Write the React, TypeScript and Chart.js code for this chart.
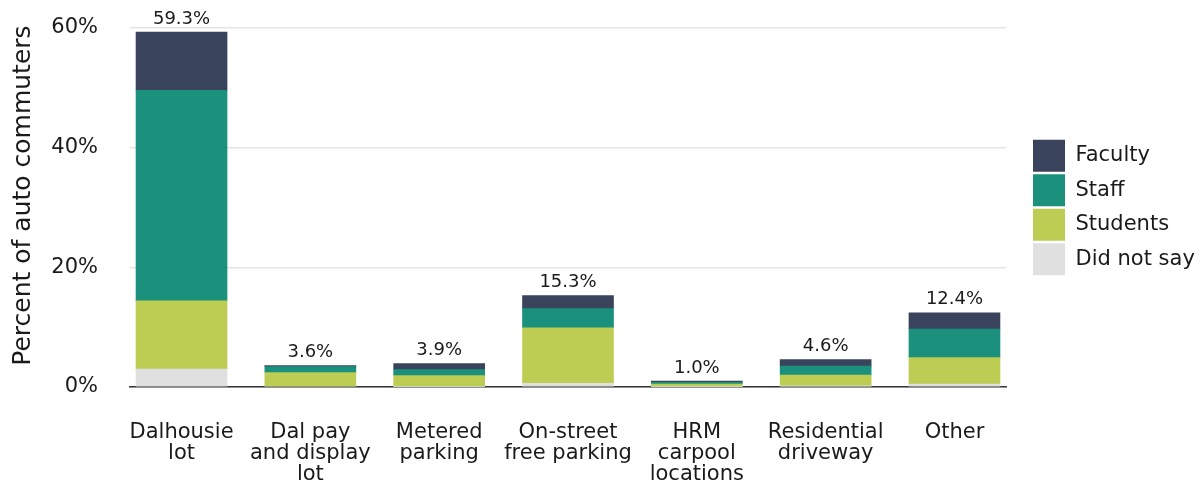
import React, { useEffect, useRef } from "react";
import { Chart, registerables } from "chart.js";

Chart.register(...registerables);

const categories: string[][] = [
  ["Dalhousie", "lot"],
  ["Dal pay", "and display", "lot"],
  ["Metered", "parking"],
  ["On-street", "free parking"],
  ["HRM", "carpool", "locations"],
  ["Residential", "driveway"],
  ["Other"],
];

const didNotSay = [3.0, 0.0, 0.1, 0.6, 0.1, 0.2, 0.5];
const students = [11.4, 2.4, 1.8, 9.3, 0.4, 1.8, 4.4];
const staff = [35.2, 1.0, 1.0, 3.2, 0.3, 1.5, 4.8];
const faculty = [9.7, 0.2, 1.0, 2.2, 0.2, 1.1, 2.7];
const totals = [59.3, 3.6, 3.9, 15.3, 1.0, 4.6, 12.4];

const yTicks = [0, 20, 40, 60];

const FONT = "DejaVu Sans";
const TEXT = "#1a1a1a";

const toPoints = (arr: number[]) => arr.map((v, i) => ({ x: i, y: v }));

const totalLabels = {
  id: "totalLabels",
  afterDatasetsDraw(chart: any) {
    const { ctx } = chart;
    const yScale = chart.scales.y;
    const meta = chart.getDatasetMeta(chart.data.datasets.length - 1);
    ctx.save();
    ctx.font = `18px "${FONT}"`;
    ctx.fillStyle = TEXT;
    ctx.textAlign = "center";
    ctx.textBaseline = "bottom";
    totals.forEach((t, i) => {
      const el = meta.data[i];
      if (!el) return;
      const y = yScale.getPixelForValue(t);
      ctx.fillText(t.toFixed(1) + "%", el.x, y - 4);
    });
    ctx.restore();
  },
};

export default function App() {
  const ref = useRef<HTMLCanvasElement | null>(null);

  useEffect(() => {
    if (!ref.current) return;
    Chart.defaults.font.family = FONT;
    const chart = new Chart(ref.current, {
      type: "bar",
      data: {
        datasets: [
          { label: "Did not say", data: toPoints(didNotSay), backgroundColor: "#e0e0e0" },
          { label: "Students", data: toPoints(students), backgroundColor: "#bdcd53" },
          { label: "Staff", data: toPoints(staff), backgroundColor: "#1b917d" },
          { label: "Faculty", data: toPoints(faculty), backgroundColor: "#39445c" },
        ] as any,
      },
      options: {
        responsive: false,
        animation: false,
        events: [],
        barThickness: 91,
        layout: { padding: { top: 28, right: 7.5, bottom: 0, left: 0 } },
        plugins: {
          tooltip: { enabled: false },
          legend: {
            position: "right",
            fullSize: false,
            reverse: true,
            maxWidth: 164,
            labels: {
              boxWidth: 32,
              boxHeight: 32,
              padding: 2.5,
              color: TEXT,
              font: { family: FONT, size: 21 },
            },
          },
        },
        scales: {
          x: {
            type: "linear",
            stacked: true,
            offset: false,
            min: -0.4,
            max: 6.4,
            grid: { display: false, drawTicks: false, offset: false },
            border: { display: true, color: "#333333", width: 1.5 },
            afterBuildTicks: (axis: any) => {
              axis.ticks = categories.map((_, i) => ({ value: i }));
            },
            afterFit: (axis: any) => {
              axis.height = 96;
            },
            ticks: {
              autoSkip: false,
              maxRotation: 0,
              minRotation: 0,
              padding: 35,
              color: TEXT,
              font: { family: FONT, size: 21, lineHeight: 1.0 },
              callback: (v: any) => categories[Number(v)] ?? "",
            },
          },
          y: {
            type: "linear",
            stacked: true,
            min: 0,
            max: 60,
            afterBuildTicks: (axis: any) => {
              axis.ticks = yTicks.map((v) => ({ value: v }));
            },
            afterFit: (axis: any) => {
              axis.width = 130;
            },
            grid: {
              color: "#e4e4e4",
              lineWidth: 1.5,
              drawTicks: true,
              tickLength: 29,
              tickColor: "rgba(0,0,0,0)",
            },
            border: { display: false },
            ticks: {
              padding: 3,
              color: TEXT,
              font: { family: FONT, size: 21 },
              callback: (v: any) => v + "%",
            },
            title: {
              display: true,
              text: "   Percent of auto commuters",
              color: TEXT,
              font: { family: FONT, size: 25 },
              padding: { top: 8, bottom: 0 },
            },
          },
          y2: {
            type: "linear",
            position: "right",
            display: true,
            grid: { display: false, drawTicks: false },
            border: { display: false },
            ticks: { display: false },
            afterFit: (axis: any) => {
              axis.width = 24.5;
            },
          },
        },
      } as any,
      plugins: [totalLabels],
    });
    return () => chart.destroy();
  }, []);

  return (
    <div style={{ position: "absolute", left: 0, top: 0, width: 1202, height: 483, background: "#ffffff" }}>
      <canvas ref={ref} width={1202} height={483} style={{ display: "block" }} />
    </div>
  );
}
